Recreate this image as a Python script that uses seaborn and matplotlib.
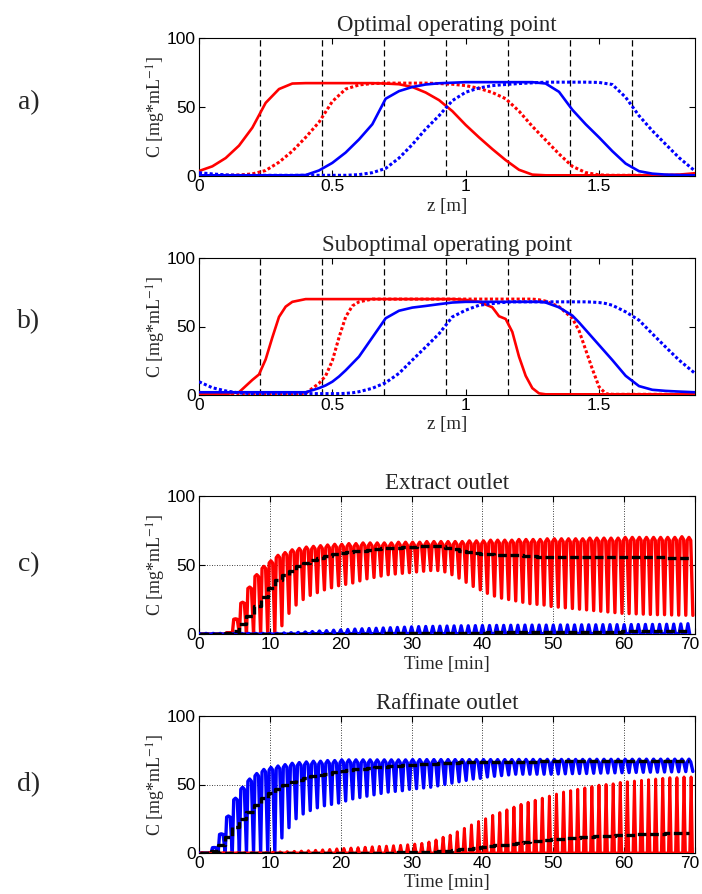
import matplotlib
matplotlib.use("Agg")
import matplotlib.pyplot as plt
import matplotlib.transforms as mtransforms
import seaborn as sns
import numpy as np

# ---------------- data ----------------
panel_titles = ["Optimal operating point", "Suboptimal operating point",
                "Extract outlet", "Raffinate outlet"]
panel_letters = ["a)", "b)", "c)", "d)"]
y_label = "C [mg*mL$^{-1}$]"
z_label = "z [m]"
t_label = "Time [min]"
y_ticks = [0, 50, 100]
z_ticks = [0, 0.5, 1, 1.5]
z_tick_labels = ["0", "0.5", "1", "1.5"]
t_ticks = [0, 10, 20, 30, 40, 50, 60, 70]
column_bounds = [0.227, 0.461, 0.692, 0.925, 1.159, 1.390, 1.625]
z_max = 1.86

# panel a (optimal) – axial profiles
a_z = [0, 0.05, 0.1, 0.15, 0.2, 0.25, 0.3, 0.35, 0.4, 0.45, 0.5, 0.55, 0.6, 0.65,
       0.7, 0.75, 0.8, 0.85, 0.9, 0.95, 1.0, 1.05, 1.1, 1.15, 1.2, 1.25, 1.3, 1.35,
       1.4, 1.45, 1.5, 1.55, 1.6, 1.65, 1.7, 1.75, 1.8, 1.86]
a_red_solid = [3.6, 7, 13, 22, 35, 53, 63, 67, 67.3, 67.3, 67.3, 67.3, 67.3, 67.3,
               67, 66.5, 64.5, 60.5, 55, 47, 37, 28, 19.5, 11.5, 4.5, 1, 0.5, 0.5,
               0.5, 0.5, 0.5, 0.5, 0.5, 0.5, 0.5, 0.7, 1, 2]
a_red_dotted = [0.5, 0.5, 0.5, 0.7, 1.5, 4, 10, 18, 28, 39, 54, 63, 66, 67,
                67.3, 67.3, 67.3, 67.3, 67, 66.5, 65.5, 63.5, 60.5, 56, 47, 36, 26, 16,
                7, 2.5, 0.8, 0.5, 0.5, 0.5, 0.5, 0.5, 0.5, 0.5]
a_blue_solid = [0.5, 0.5, 0.5, 0.5, 0.5, 0.5, 0.5, 0.5, 0.7, 4, 9.5, 17, 26.5, 37.5,
                56, 61.5, 64.5, 66.3, 67.2, 67.6, 68, 68, 68, 68, 68, 68, 67, 61,
                48, 37.5, 28, 18, 9, 3.5, 1.7, 1, 0.7, 0.5]
a_blue_dotted = [2.4, 1.5, 0.8, 0.5, 0.5, 0.5, 0.5, 0.5, 0.5, 0.5, 0.5, 0.5, 1, 2.4,
                 5.5, 13, 22.8, 34, 43.7, 54.6, 60.7, 63.8, 65.5, 66.3, 67, 67.5, 68, 68,
                 68, 68, 67.8, 66.3, 57, 43.7, 32.8, 23, 13.3, 3.6]

# panel b (suboptimal) – axial profiles
b_z = [0, 0.05, 0.1, 0.15, 0.2, 0.225, 0.25, 0.275, 0.3, 0.325, 0.35,
       0.4, 0.45, 0.475, 0.5, 0.525, 0.55, 0.575, 0.6,
       0.65, 0.7, 0.75, 0.8, 0.85, 0.9, 0.95, 1.0, 1.05, 1.1,
       1.125, 1.15, 1.175, 1.2, 1.225, 1.25, 1.275, 1.3,
       1.35, 1.4, 1.425, 1.45, 1.475, 1.5, 1.525, 1.55,
       1.6, 1.65, 1.7, 1.75, 1.8, 1.86]
b_red_solid = [0.5, 0.5, 0.7, 2, 11, 15, 26, 42, 57, 64.5, 68,
               70, 70, 70, 70, 70, 70, 70, 70,
               70, 70, 70, 70, 70, 70, 70, 69.5, 68, 64,
               57.5, 55.5, 46, 28, 14, 5, 1.2, 0.5,
               0.5, 0.5, 0.5, 0.5, 0.5, 0.5, 0.5, 0.5,
               0.5, 0.5, 0.5, 0.5, 0.5, 0.5]
b_red_dotted = [0.5, 0.5, 0.5, 0.5, 0.5, 0.5, 0.5, 0.5, 0.5, 0.5, 0.5,
                1.2, 8.5, 14, 25, 42, 57, 65, 68,
                70, 70, 70, 70, 70, 70, 70, 70, 70, 70,
                70, 70, 70, 70, 70, 70, 69.5, 68.5,
                64.5, 56, 47, 33, 19, 6, 1, 0.5,
                0.5, 0.5, 0.5, 0.5, 0.5, 0.5]
b_blue_solid = [2, 2, 2, 2, 2, 2, 2, 2, 2, 2, 2,
                2, 5, 7, 9.7, 13.5, 18, 23, 28,
                42, 56, 61.5, 63.8, 65, 66.3, 67.5, 68, 68, 68,
                68, 68, 68, 68, 68, 68, 68, 67.5,
                64, 58, 53, 47.5, 42, 36.5, 31, 25.5,
                14, 6.5, 3.8, 3, 2.5, 2]
b_blue_dotted = [9.7, 5.3, 3, 1.5, 1, 1, 1, 1, 1, 1, 1,
                 1, 1, 1, 1, 1, 1.2, 1.6, 2.4,
                 4.9, 9, 15.8, 25.5, 35, 44.7, 57, 61.9, 65.5, 66.7,
                 67.3, 67.7, 68, 68, 68, 68, 68, 68,
                 68, 68, 68, 68, 67.8, 67.5, 66.8, 65.5,
                 60.7, 54.6, 44.7, 35, 25.5, 15.8]

# panel c (extract outlet) – per switching period (1 min), k = 0..69
c_red_peak = [0, 0, 0, 0, 1, 11, 23, 34, 43, 49,
              53, 57, 59, 61, 62, 63, 63.5, 64, 64.5, 65,
              65, 65.5, 65.5, 66, 66, 66, 66, 66, 66.5, 66.5,
              66.5, 66.5, 67, 67, 67, 67, 67, 67, 67.5, 67.5,
              67.5, 68, 68, 68, 68, 68.5, 68.5, 68.5, 68.5, 69,
              69, 69, 69, 69, 69, 69.5, 69.5, 69.5, 69.5, 69.5,
              70, 70, 70, 70, 70, 70, 70, 70, 70.5, 70]
c_red_low = [0, 0, 0, 0, 0, 0, 0, 0, 0, 0,
             0, 6, 15, 21, 25, 28, 30, 32, 33.5, 35,
             36, 37, 38.5, 40, 41, 42, 43, 43.5, 44, 44.5,
             45, 45.5, 46, 46, 45, 43, 40.5, 37.5, 34.5, 32,
             29.5, 27.5, 26, 25, 24, 23, 22, 21.5, 21, 20,
             19.5, 19, 18.5, 18, 17.5, 17, 16.5, 16, 15.5, 15,
             14.8, 14.6, 14.4, 14.2, 14, 14, 13.8, 13.7, 13.6, 13.5]
c_red_mean = [0, 0, 0, 0, 0.5, 2, 7, 13, 20, 27,
              33, 39, 43, 46, 49, 51.5, 53.5, 55, 56.5, 58,
              59, 59.5, 60, 60.5, 61, 61.5, 62, 62.5, 62.5, 63,
              63, 63.5, 63.5, 64, 63.5, 62.5, 61.5, 60.5, 59.5, 58.5,
              58, 58, 57.5, 57.5, 57, 57, 56.5, 56.5, 56, 56,
              56, 56, 56, 55.5, 55.5, 55.5, 55.5, 55.5, 55.5, 55.5,
              55.5, 55.5, 55.5, 55.5, 55.5, 55.5, 55, 55, 55, 55]
c_blue_peak = [0.5, 0.5, 0.5, 0.5, 0.5, 0.5, 0.5, 0.5, 0.5, 0.5,
               0.5, 0.5, 0.8, 1, 1.2, 1.5, 1.8, 2.2, 2.5, 2.8,
               3, 3.3, 3.6, 3.8, 4, 4.2, 4.4, 4.6, 4.8, 5,
               5.2, 5.4, 5.5, 5.6, 5.7, 5.8, 5.9, 6, 6, 6.1,
               6.2, 6.2, 6.3, 6.3, 6.4, 6.4, 6.5, 6.5, 6.5, 6.5,
               6.5, 6.6, 6.6, 6.6, 6.7, 6.7, 6.7, 6.8, 6.8, 6.8,
               6.8, 6.9, 6.9, 7, 7, 7, 7.1, 7.2, 7.3, 7.5]
c_blue_low = [0, 0, 0, 0, 0, 0, 0, 0, 0, 0,
              0, 0, 0, 0, 0, 0.3, 0.3, 0.3, 0.3, 0.3,
              0.3, 0.3, 0.3, 0.3, 0.3, 0.3, 0.3, 0.3, 0.3, 0.3,
              0.3, 0.3, 0.3, 0.3, 0.3, 0.3, 0.3, 0.3, 0.3, 0.3,
              0.3, 0.3, 0.3, 0.3, 0.3, 0.3, 0.3, 0.3, 0.3, 0.3,
              0.3, 0.3, 0.3, 0.3, 0.3, 0.3, 0.3, 0.3, 0.3, 0.3,
              0.3, 0.3, 0.3, 0.3, 0.3, 0.3, 0.3, 0.3, 0.3, 0.3]
c_blue_mean = [0, 0, 0, 0, 0, 0, 0, 0, 0, 0,
               0, 0, 0, 0, 0, 0, 0, 0, 0.1, 0.1,
               0.2, 0.2, 0.2, 0.3, 0.3, 0.3, 0.4, 0.4, 0.5, 0.5,
               0.6, 0.6, 0.7, 0.7, 0.8, 0.8, 0.9, 0.9, 1, 1,
               1, 1.1, 1.1, 1.2, 1.2, 1.3, 1.3, 1.4, 1.4, 1.5,
               1.5, 1.5, 1.6, 1.6, 1.7, 1.7, 1.7, 1.8, 1.8, 1.8,
               1.9, 1.9, 1.9, 2, 2, 2, 2, 2.1, 2.1, 2.1]

# panel d (raffinate outlet) – per switching period (1 min), k = 0..69
d_blue_peak = [0, 0, 4, 14, 27, 40, 48, 54, 58, 61,
               62.5, 63.5, 64.5, 65.5, 66, 66.5, 67, 67, 67.5, 67.5,
               68, 68, 68, 68, 68, 68, 68, 68, 68, 68,
               68.2, 68.2, 68.2, 68.2, 68.2, 68.2, 68.2, 68.2, 68.2, 68.2,
               68.2, 68.2, 68.2, 68.2, 68.2, 68.3, 68.3, 68.3, 68.3, 68.3,
               68.3, 68.3, 68.3, 68.3, 68.3, 68.4, 68.4, 68.4, 68.4, 68.4,
               68.4, 68.4, 68.5, 68.5, 68.5, 68.5, 68.5, 68.5, 68.5, 68.5]
d_blue_low = [0, 0, 0, 0, 0, 0, 0, 0, 0, 0,
              0, 11, 18.5, 25, 28.5, 31, 33, 34.5, 35.5, 36.5,
              38, 39.5, 40.5, 41.5, 42.5, 43.5, 44.5, 45, 45.5, 46.5,
              47, 47.5, 48, 49, 50, 51, 52, 53, 54, 54.5,
              55.5, 56, 56.5, 57, 57.5, 57.5, 57.5, 57.5, 57.5, 57.5,
              57.7, 57.8, 57.9, 58, 58, 58.2, 58.3, 58.4, 58.5, 58.6,
              58.7, 58.8, 58.9, 59, 59, 59.1, 59.2, 59.3, 59.4, 59.5]
d_blue_mean = [0, 0, 1.5, 6, 12, 19, 25, 30, 35, 40,
               44, 47, 49.5, 51.5, 53, 54.5, 56, 57, 58, 59,
               60, 60.5, 61, 61.5, 62, 62.5, 63, 63.3, 63.6, 64,
               64.3, 64.6, 64.9, 65.2, 65.5, 65.7, 65.9, 66.1, 66.2, 66.3,
               66.4, 66.4, 66.5, 66.5, 66.6, 66.6, 66.7, 66.7, 66.8, 66.8,
               66.8, 66.9, 66.9, 66.9, 67, 67, 67, 67, 67.1, 67.1,
               67.1, 67.1, 67.2, 67.2, 67.2, 67.2, 67.3, 67.3, 67.3, 67.3]
d_red_peak = [0.3, 0.3, 0.3, 0.3, 0.3, 0.3, 0.3, 0.3, 0.3, 0.3,
              0.6, 0.8, 1, 1.2, 1.4, 1.7, 2, 2.3, 2.6, 3,
              3.3, 3.6, 3.9, 4.2, 4.5, 4.8, 5, 5.3, 5.6, 6,
              6.5, 7, 8, 9.5, 11.5, 13, 15.5, 18, 20.5, 23,
              25, 27.5, 29.5, 31.5, 33.5, 35.5, 37, 38.5, 40, 41.5,
              43, 44.5, 45.5, 46.5, 47.5, 48.5, 49.5, 50, 50.5, 51.5,
              52, 52.5, 53, 53.5, 54, 54.5, 55, 55, 55.5, 55.5]
d_red_low = [0, 0, 0, 0, 0, 0, 0, 0, 0, 0,
             0, 0, 0, 0, 0, 0, 0, 0, 0, 0,
             0, 0, 0, 0, 0, 0, 0, 0, 0, 0,
             0, 0, 0, 0, 0, 0, 0, 0, 0, 0,
             0, 0, 0, 0, 0, 0, 0, 0, 0, 0,
             0, 0, 0, 0, 0, 0, 0, 0, 0, 0,
             0, 0, 0, 0, 0, 0, 0, 0, 0, 0]
d_red_mean = [0, 0, 0, 0, 0, 0, 0, 0, 0, 0,
              0, 0, 0, 0, 0, 0.1, 0.1, 0.1, 0.1, 0.1,
              0.2, 0.2, 0.2, 0.2, 0.2, 0.3, 0.3, 0.3, 0.4, 0.4,
              0.5, 0.6, 0.8, 1, 1.3, 1.7, 2.1, 2.6, 3.1, 3.7,
              4.3, 5, 5.6, 6.2, 6.8, 7.4, 8, 8.5, 9, 9.5,
              10, 10.4, 10.8, 11.2, 11.5, 11.8, 12.1, 12.4, 12.7, 13,
              13.2, 13.4, 13.6, 13.8, 14, 14.2, 14.4, 14.5, 14.6, 14.7]

# ---------------- style ----------------
sns.set_theme(style="ticks")
plt.rcParams["font.family"] = ["Liberation Sans", "DejaVu Sans"]
plt.rcParams["mathtext.fontset"] = "stix"
SERIF = ["Liberation Serif", "DejaVu Serif"]
RED = "#ff0000"
BLUE = "#0000ff"

W, H = 702, 894
fig = plt.figure(figsize=(W / 100, H / 100), dpi=100)
left, right = 199, 695
panels_px = [(38, 176), (258, 395), (496, 634), (716, 853)]
axes = []
for top, bot in panels_px:
    axes.append(fig.add_axes([left / W, 1 - bot / H, (right - left) / W, (bot - top) / H]))


def dip_wave(peak, low):
    t, y = [], []
    for k, (p, l) in enumerate(zip(peak, low)):
        t += [k - 0.1, k + 0.15, k + 0.4, k + 0.7]
        y += [0.97 * p, p, 0.97 * p, l]
    return t, y


def spike_wave(peak, low, center, half):
    t, y = [], []
    for k, (p, l) in enumerate(zip(peak, low)):
        t += [k + center - half, k + center, k + center + half]
        y += [l, p, l]
    return t, y


def mean_steps(mean):
    return [k + 0.2 for k in range(len(mean))], list(mean)


def style_axes(ax, title, xlabel, pos_px):
    ax.set_ylim(0, 100)
    ax.set_yticks(y_ticks)
    ax.tick_params(direction="in", top=True, right=True, length=4, width=0.8,
                   labelsize=12.5, pad=2.5, colors="black")
    for s in ax.spines.values():
        s.set_visible(True)
        s.set_color("black")
        s.set_linewidth(0.8)
    ax.set_facecolor("white")
    ax.set_title(title, family=SERIF, fontsize=16.5, pad=5)
    ax.set_ylabel(y_label, family=SERIF, fontsize=13)
    ax.yaxis.set_label_coords(-0.063, 0.5)
    ax.set_xlabel(xlabel, family=SERIF, fontsize=13.5)
    hpx = pos_px[1] - pos_px[0]
    ax.xaxis.set_label_coords(0.5, -30 / hpx)
    ax.xaxis.label.set_va("center")


SOLID_LW = 1.9
DOT = (0, (1.0, 0.75))
MEAN_LS = (0, (2.6, 1.1))

# panel a
ax = axes[0]
for xb in column_bounds:
    ax.axvline(xb, color="black", lw=0.9, ls=(0, (5, 3)), zorder=1)
sns.lineplot(x=a_z, y=a_red_solid, ax=ax, color=RED, lw=SOLID_LW, estimator=None, sort=False, zorder=3)
sns.lineplot(x=a_z, y=a_red_dotted, ax=ax, color=RED, lw=2.2, ls=DOT, estimator=None, sort=False, zorder=3)
sns.lineplot(x=a_z, y=a_blue_solid, ax=ax, color=BLUE, lw=SOLID_LW, estimator=None, sort=False, zorder=3)
sns.lineplot(x=a_z, y=a_blue_dotted, ax=ax, color=BLUE, lw=2.2, ls=DOT, estimator=None, sort=False, zorder=3)

# panel b
ax = axes[1]
for xb in column_bounds:
    ax.axvline(xb, color="black", lw=0.9, ls=(0, (5, 3)), zorder=1)
sns.lineplot(x=b_z, y=b_red_solid, ax=ax, color=RED, lw=SOLID_LW, estimator=None, sort=False, zorder=3)
sns.lineplot(x=b_z, y=b_red_dotted, ax=ax, color=RED, lw=2.2, ls=DOT, estimator=None, sort=False, zorder=3)
sns.lineplot(x=b_z, y=b_blue_solid, ax=ax, color=BLUE, lw=SOLID_LW, estimator=None, sort=False, zorder=3)
sns.lineplot(x=b_z, y=b_blue_dotted, ax=ax, color=BLUE, lw=2.2, ls=DOT, estimator=None, sort=False, zorder=3)

for i in (0, 1):
    ax = axes[i]
    ax.set_xlim(0, z_max)
    ax.set_xticks(z_ticks)
    ax.set_xticklabels(z_tick_labels)
    style_axes(ax, panel_titles[i], z_label, panels_px[i])

# panel c
ax = axes[2]
tx, ty = dip_wave(c_red_peak, c_red_low)
sns.lineplot(x=tx, y=ty, ax=ax, color=RED, lw=2.4, estimator=None, sort=False, zorder=3)
tx, ty = spike_wave(c_blue_peak, c_blue_low, 0.0, 0.25)
sns.lineplot(x=tx, y=ty, ax=ax, color=BLUE, lw=2.3, estimator=None, sort=False, zorder=3)
mx, my = mean_steps(c_red_mean)
sns.lineplot(x=mx, y=my, ax=ax, color="black", lw=2.4, ls=MEAN_LS, drawstyle="steps-mid",
             estimator=None, sort=False, zorder=4)
mx, my = mean_steps(c_blue_mean)
sns.lineplot(x=mx, y=my, ax=ax, color="black", lw=2.4, ls=MEAN_LS, drawstyle="steps-mid",
             estimator=None, sort=False, zorder=4)

# panel d
ax = axes[3]
tx, ty = dip_wave(d_blue_peak, d_blue_low)
sns.lineplot(x=tx, y=ty, ax=ax, color=BLUE, lw=2.4, estimator=None, sort=False, zorder=3)
tx, ty = spike_wave(d_red_peak, d_red_low, 0.45, 0.2)
sns.lineplot(x=tx, y=ty, ax=ax, color=RED, lw=2.1, estimator=None, sort=False, zorder=3)
mx, my = mean_steps(d_blue_mean)
sns.lineplot(x=mx, y=my, ax=ax, color="black", lw=2.4, ls=MEAN_LS, drawstyle="steps-mid",
             estimator=None, sort=False, zorder=4)
mx, my = mean_steps(d_red_mean)
sns.lineplot(x=mx, y=my, ax=ax, color="black", lw=2.4, ls=MEAN_LS, drawstyle="steps-mid",
             estimator=None, sort=False, zorder=4)

for i in (2, 3):
    ax = axes[i]
    ax.set_xlim(0, 70)
    ax.set_xticks(t_ticks)
    ax.grid(True, color="black", ls=(0, (1, 2)), lw=0.6)
    style_axes(ax, panel_titles[i], t_label, panels_px[i])
    # keep the last tick label ("70") inside the figure edge
    last = ax.get_xticklabels()[-1]
    last.set_transform(last.get_transform() +
                       mtransforms.ScaledTranslation(-5 / 100, 0, fig.dpi_scale_trans))

# panel letters
letter_y_px = [103, 322, 565, 785]
for lab, ypx in zip(panel_letters, letter_y_px):
    fig.text(29 / W, 1 - ypx / H, lab, family=SERIF, fontsize=20, ha="center", va="center")

fig.savefig("out.png", dpi=100, facecolor="white")
